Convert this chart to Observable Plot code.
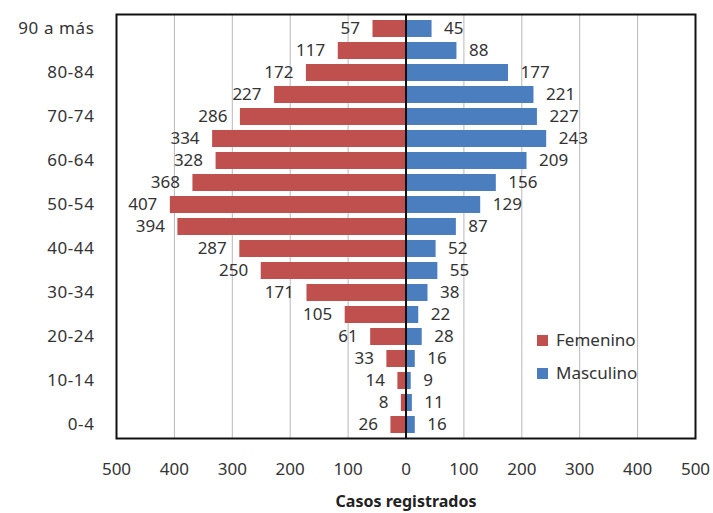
<!DOCTYPE html>
<html>
<head>
<meta charset="utf-8">
<script src="https://cdn.jsdelivr.net/npm/d3@7"></script>
<script src="https://cdn.jsdelivr.net/npm/@observablehq/plot@0.6"></script>
<style>
  body { margin: 0; background: #fff; font-family: "Noto Sans", sans-serif; }
  #wrap { position: relative; width: 713px; height: 513px; }
  g[aria-label="x-axis label"] text { font-weight: bold; font-size: 16px; fill: #222; }
  g[aria-label="y-axis tick label"] text { letter-spacing: 0.6px; }
  #legend { position: absolute; left: 537px; top: 323px; font-size: 17px; color: #333; line-height: 33px; }
  #legend span.sw { display: inline-block; width: 11px; height: 11px; margin-right: 8px; vertical-align: 0px; }
</style>
</head>
<body>
<div id="wrap">
  <div id="chart"></div>
  <div id="legend"></div>
</div>
<script>
const groups = ["90 a más","85-89","80-84","75-79","70-74","65-69","60-64","55-59","50-54","45-49","40-44","35-39","30-34","25-29","20-24","15-19","10-14","5-9","0-4"];
const femenino = [57,117,172,227,286,334,328,368,407,394,287,250,171,105,61,33,14,8,26];
const masculino = [45,88,177,221,227,243,209,156,129,87,52,55,38,22,28,16,9,11,16];
const xTicks = [-500,-400,-300,-200,-100,0,100,200,300,400,500];
const shownGroups = ["90 a más","80-84","70-74","60-64","50-54","40-44","30-34","20-24","10-14","0-4"];
const seriesNames = ["Femenino","Masculino"];
const colors = ["#c0504d","#4a7ebf"];

const data = groups.map((g, i) => ({group: g, f: femenino[i], m: masculino[i]}));

const chart = Plot.plot({
  width: 713,
  height: 513,
  marginLeft: 116,
  marginRight: 18,
  marginTop: 14,
  marginBottom: 75,
  style: { fontFamily: "Noto Sans, sans-serif", fontSize: "17px", color: "#333" },
  x: { domain: [-500, 500], ticks: xTicks, tickFormat: d => Math.abs(d), tickSize: 0, tickPadding: 24,
       label: "Casos registrados", labelAnchor: "center", labelArrow: "none", labelOffset: 68 },
  y: { domain: groups, padding: 0.25, ticks: shownGroups, tickSize: 0, tickPadding: 22, label: null },
  marks: [
    Plot.gridX(xTicks.filter(d => d !== 0), { stroke: "#b8b8b8", strokeOpacity: 1, strokeWidth: 1 }),
    Plot.barX(data, { y: "group", x: d => -d.f, fill: colors[0] }),
    Plot.barX(data, { y: "group", x: "m", fill: colors[1] }),
    Plot.ruleX([0], { stroke: "#111", strokeWidth: 2 }),
    Plot.text(data, { y: "group", x: d => -d.f, text: d => String(d.f), textAnchor: "end", dx: -13, fill: "#333", fontSize: 17 }),
    Plot.text(data, { y: "group", x: "m", text: d => String(d.m), textAnchor: "start", dx: 12, fill: "#333", fontSize: 17 }),
    Plot.frame({ stroke: "#111", strokeWidth: 2 })
  ]
});
document.getElementById("chart").appendChild(chart);

const legend = document.getElementById("legend");
seriesNames.forEach((n, i) => {
  const row = document.createElement("div");
  row.innerHTML = `<span class="sw" style="background:${colors[i]}"></span>${n}`;
  legend.appendChild(row);
});
</script>
</body>
</html>
